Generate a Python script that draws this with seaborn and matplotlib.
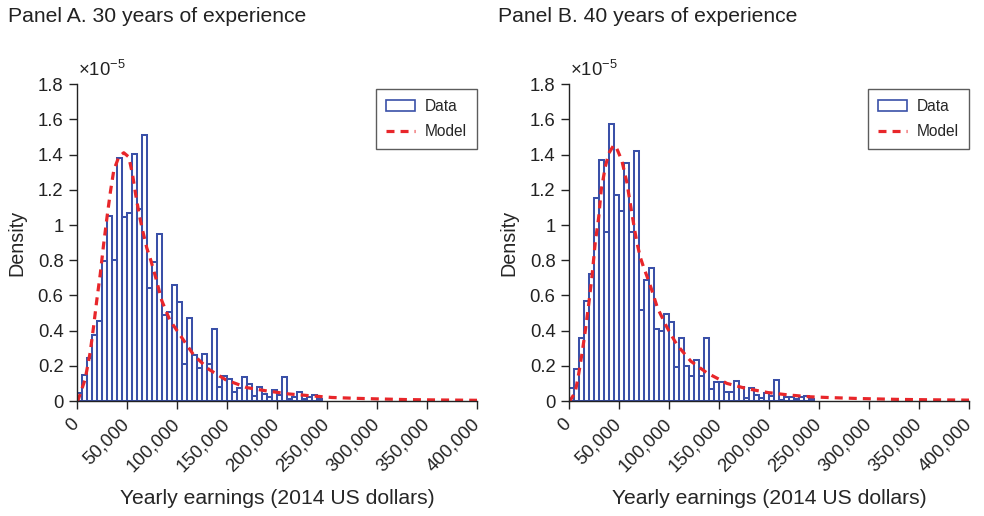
import numpy as np
import pandas as pd
import matplotlib
matplotlib.use("Agg")
import matplotlib.pyplot as plt
import seaborn as sns
from matplotlib.patches import Patch
from matplotlib.lines import Line2D
from matplotlib.ticker import FuncFormatter

# ---------------- data (density values in units of 1e-5) ----------------
bin_width = 5000
bin_starts_k = list(range(0, 245, 5))  # left edges in thousands of dollars

hist_a = [0.047, 0.145, 0.245, 0.377, 0.455, 0.796, 1.053, 0.80, 1.38, 1.043,
          1.07, 1.405, 1.09, 1.513, 0.643, 0.79, 0.947, 0.49, 0.508, 0.657,
          0.56, 0.211, 0.472, 0.262, 0.187, 0.266, 0.213, 0.411, 0.081, 0.14,
          0.126, 0.051, 0.074, 0.136, 0.096, 0.026, 0.079, 0.042, 0.021, 0.06,
          0.036, 0.138, 0.013, 0.021, 0.051, 0.013, 0.021, 0.034, 0.011]

hist_b = [0.074, 0.184, 0.356, 0.567, 0.72, 1.156, 1.369, 0.959, 1.573, 1.168,
          1.079, 1.354, 0.963, 1.422, 0.516, 0.69, 0.757, 0.411, 0.396, 0.493,
          0.451, 0.191, 0.358, 0.2, 0.144, 0.231, 0.142, 0.36, 0.066, 0.108,
          0.108, 0.051, 0.051, 0.115, 0.08, 0.019, 0.076, 0.034, 0.019, 0.044,
          0.028, 0.119, 0.006, 0.021, 0.021, 0.009, 0.021, 0.028, 0.013]

model_a_x_k = [0, 1.7, 8.4, 13.4, 16.8, 20, 23.5, 27, 30.4, 33.7, 37, 42, 47, 52,
               55.7, 59, 62.4, 65.8, 70, 74, 79, 85, 93, 105, 117, 132, 149, 170,
               190, 212, 233, 255, 280, 300, 330, 360, 400]
model_a_y = [0, 0.01, 0.123, 0.274, 0.42, 0.57, 0.72, 0.896, 1.05, 1.19, 1.31,
             1.387, 1.411, 1.387, 1.29, 1.17, 1.06, 0.97, 0.87, 0.8, 0.7, 0.57,
             0.46, 0.36, 0.26, 0.18, 0.12, 0.076, 0.057, 0.04, 0.03, 0.02, 0.015,
             0.012, 0.008, 0.006, 0.004]

model_b_x_k = [0, 1.6, 6.6, 10, 13.3, 16.6, 20, 23.2, 26.5, 30, 32.5, 36.5, 40, 45,
               48, 53, 58, 61.5, 64.8, 68, 71.4, 74.7, 79, 83, 88.6, 98, 108, 122,
               138, 158, 178, 199, 220, 241, 258, 290, 330, 360, 400]
model_b_y = [0, 0.004, 0.051, 0.155, 0.27, 0.40, 0.55, 0.705, 0.9, 1.046, 1.2,
             1.33, 1.407, 1.454, 1.435, 1.368, 1.245, 1.122, 1.008, 0.904, 0.819,
             0.762, 0.696, 0.63, 0.53, 0.42, 0.32, 0.226, 0.16, 0.10, 0.07, 0.048,
             0.034, 0.024, 0.02, 0.014, 0.009, 0.007, 0.005]

panel_titles = ["Panel A. 30 years of experience", "Panel B. 40 years of experience"]
x_ticks = [0, 50000, 100000, 150000, 200000, 250000, 300000, 350000, 400000]
y_ticks = [0, 0.2, 0.4, 0.6, 0.8, 1.0, 1.2, 1.4, 1.6, 1.8]
x_label = "Yearly earnings (2014 US dollars)"
y_label = "Density"
legend_labels = ["Data", "Model"]

# ---------------- style ----------------
sns.set_style("ticks")
plt.rcParams["font.family"] = ["Liberation Sans", "DejaVu Sans"]
plt.rcParams["mathtext.default"] = "regular"
plt.rcParams["axes.edgecolor"] = "#222222"
plt.rcParams["xtick.color"] = "#222222"
plt.rcParams["ytick.color"] = "#222222"

BLUE = "#3a50a8"
RED = "#e8262a"
FS = 13.3

W, H = 984, 516
fig = plt.figure(figsize=(W / 100, H / 100), dpi=100)

edges = [s * 1000 for s in bin_starts_k] + [(bin_starts_k[-1] + 5) * 1000]

panels = [
    (76.7, hist_a, model_a_x_k, model_a_y, panel_titles[0], 8),
    (568.7, hist_b, model_b_x_k, model_b_y, panel_titles[1], 498),
]

for left_px, hist_vals, mx, my, title, title_x in panels:
    ax = fig.add_axes([left_px / W, (H - 401) / H, 400.5 / W, (401 - 84.3) / H])
    df = pd.DataFrame({"x": [e + bin_width / 2 for e in edges[:-1]], "w": hist_vals})
    sns.histplot(data=df, x="x", weights="w", bins=edges, stat="count",
                 fill=False, element="bars", color=BLUE, linewidth=1.45, ax=ax)
    for p in ax.patches:
        p.set_edgecolor(BLUE)
    mdf = pd.DataFrame({"x": [v * 1000 for v in mx], "y": my})
    sns.lineplot(data=mdf, x="x", y="y", color=RED, linewidth=2.3, sort=False,
                 ax=ax, estimator=None)
    ax.lines[-1].set_dashes([2.5, 1.9])
    ax.lines[-1].set_dash_capstyle("butt")

    ax.set_xlim(0, 400000)
    ax.set_ylim(0, 1.8)
    ax.set_xticks(x_ticks)
    ax.set_yticks(y_ticks)
    ax.xaxis.set_major_formatter(FuncFormatter(lambda v, p: f"{int(v):,}"))
    ax.yaxis.set_major_formatter(FuncFormatter(lambda v, p: f"{v:g}"))
    ax.tick_params(axis="both", labelsize=FS, length=6, width=1, direction="out")
    for lbl in ax.get_xticklabels():
        lbl.set_rotation(45)
        lbl.set_ha("right")
        lbl.set_va("center")
        lbl.set_rotation_mode("anchor")
    ax.tick_params(axis="x", pad=9)
    sns.despine(ax=ax)
    for s in ["left", "bottom"]:
        ax.spines[s].set_linewidth(1.0)
    ax.set_xlabel(x_label, fontsize=15.2, labelpad=10)
    ax.set_ylabel(y_label, fontsize=14.2, labelpad=8)
    ax.text(0.004, 1.012, r"$\times10^{-5}$", transform=ax.transAxes,
            fontsize=13.3, ha="left", va="bottom", color="#222222")

    handles = [Patch(facecolor="white", edgecolor=BLUE, linewidth=1.2),
               Line2D([0], [0], color=RED, linewidth=2.3, dashes=[2.5, 1.9])]
    leg = ax.legend(handles, legend_labels, loc="upper right",
                    bbox_to_anchor=(1.0, 0.985), fontsize=11.2, frameon=True,
                    fancybox=False, borderpad=0.65, handlelength=1.85,
                    handleheight=0.7, labelspacing=0.65, handletextpad=0.65,
                    borderaxespad=0.0)
    leg.get_frame().set_edgecolor("#333333")
    leg.get_frame().set_linewidth(1.0)

    fig.text(title_x / W, 1 - 16 / H, title, fontsize=15.2, ha="left",
             va="center", color="#222222")

fig.savefig("out.png", dpi=100)
